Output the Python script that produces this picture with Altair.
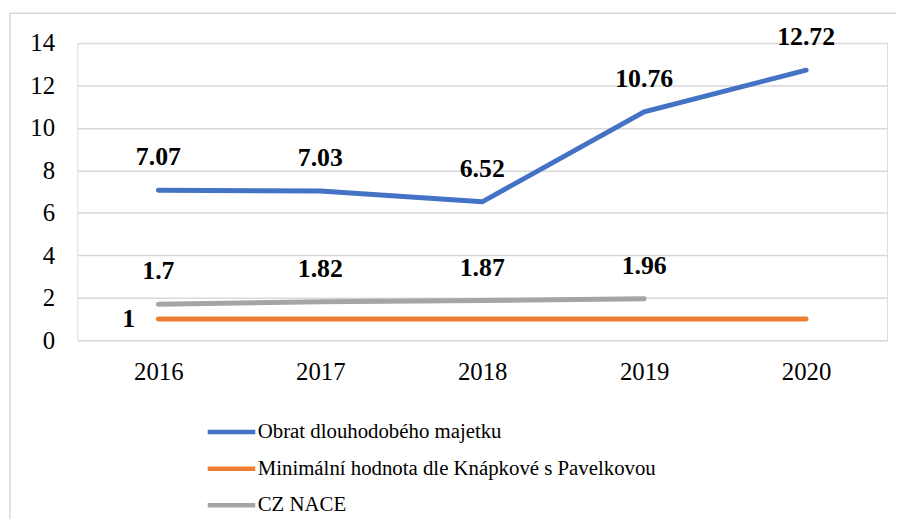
import altair as alt
import pandas as pd

years = ["2016", "2017", "2018", "2019", "2020"]
obrat = [7.07, 7.03, 6.52, 10.76, 12.72]
minimal = [1, 1, 1, 1, 1]
nace = [1.7, 1.82, 1.87, 1.96, None]
series_names = ["Obrat dlouhodobého majetku",
                "Minimální hodnota dle Knápkové s Pavelkovou",
                "CZ NACE"]
colors = ["#4472C4", "#ED7D31", "#A5A5A5"]
y_ticks = [0, 2, 4, 6, 8, 10, 12, 14]

rows = []
for name, vals in zip(series_names, [obrat, minimal, nace]):
    for yr, v in zip(years, vals):
        if v is not None:
            rows.append({"year": yr, "value": v, "series": name,
                         "label": f"{v:g}"})
df = pd.DataFrame(rows)

FONT = "Times New Roman, Liberation Serif, serif"
W, H = 817, 300

x_enc = alt.X("year:O", scale=alt.Scale(type="point", padding=0.5), title=None,
              axis=alt.Axis(labelAngle=0, labelFont=FONT, labelFontSize=25,
                            labelColor="#000000", labelPadding=20,
                            domain=False, ticks=False, grid=False))
y_enc = alt.Y("value:Q", scale=alt.Scale(domain=[0, 14], nice=False), title=None,
              axis=alt.Axis(values=y_ticks, labelFont=FONT, labelFontSize=25,
                            labelColor="#000000", labelPadding=23,
                            domain=False, ticks=False, grid=True,
                            gridColor="#d9d9d9", gridWidth=1.5))
color_enc = alt.Color("series:N",
                      scale=alt.Scale(domain=series_names, range=colors),
                      sort=series_names,
                      legend=alt.Legend(title=None, orient="none",
                                        legendX=129, legendY=366,
                                        direction="vertical",
                                        symbolType="stroke",
                                        symbolSize=2304,
                                        symbolStrokeWidth=4.5,
                                        labelFont=FONT, labelFontSize=21,
                                        labelColor="#000000",
                                        labelLimit=0, labelOffset=0,
                                        rowPadding=-10))

base = alt.Chart(df)

border = alt.Chart(pd.DataFrame({"a": [0]})).mark_rect(
    filled=False, stroke="#d9d9d9", strokeWidth=1.5
).encode(x=alt.value(-68), x2=alt.value(840), y=alt.value(-30), y2=alt.value(500))

lines = base.mark_line(strokeWidth=5, strokeCap="round").encode(
    x=x_enc, y=y_enc, color=color_enc, detail="series:N")

lab_style = dict(font=FONT, fontSize=26, fontWeight="bold", color="#000000")
labels_up = base.transform_filter(
    alt.FieldOneOfPredicate(field="series", oneOf=[series_names[0], series_names[2]])
).mark_text(dy=-33, **lab_style).encode(x=x_enc, y=y_enc, text="label:N")

labels_min = base.transform_filter(
    (alt.datum.series == series_names[1]) & (alt.datum.year == "2016")
).mark_text(dx=-30, **lab_style).encode(x=x_enc, y=y_enc, text="label:N")

chart = alt.layer(border, lines, labels_up, labels_min).properties(
    width=W, height=H,
    autosize=alt.AutoSizeParams(type="none"),
    padding={"left": 70, "top": 33, "right": 9, "bottom": 178},
).configure_view(stroke=None).configure(
    background="#ffffff", font=FONT
).configure_axis(labelFont=FONT).configure_legend(labelFont=FONT)

chart.save("out.html", embed_options={"renderer": "svg", "actions": False})
